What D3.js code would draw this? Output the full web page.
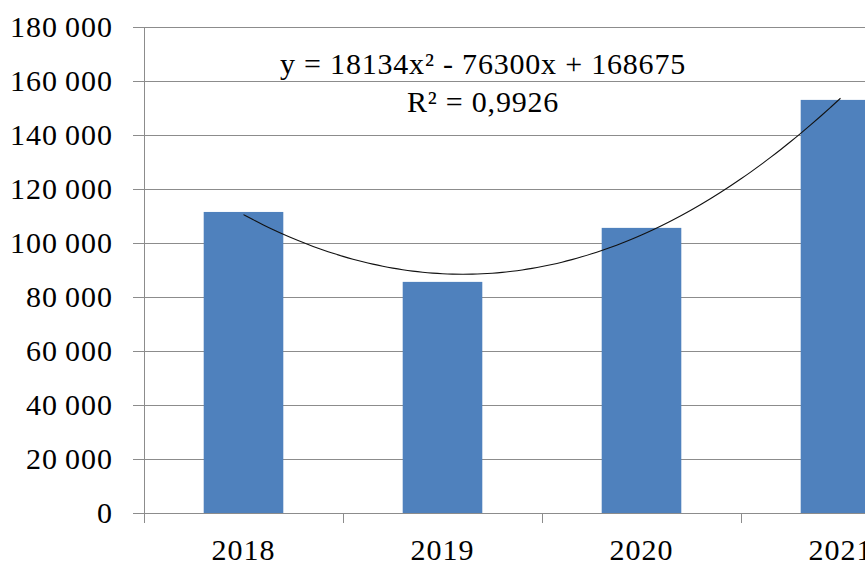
<!DOCTYPE html>
<html>
<head>
<meta charset="utf-8">
<script src="https://cdn.jsdelivr.net/npm/d3@7"></script>
<style>
  body { margin: 0; background: #fff; }
  svg { display: block; }
  text { font-family: "Liberation Serif", "Times New Roman", serif; fill: #000; }
</style>
</head>
<body>
<svg width="865" height="562"></svg>
<script>
// data
let years = ["2018", "2019", "2020", "2021"];
let values = [111500, 85600, 105600, 153000];
let yTicks = [0, 20000, 40000, 60000, 80000, 100000, 120000, 140000, 160000, 180000];
// polynomial trend line, coefficients as printed on the chart
let trendCoef = [18134, -76300, 168675];
let trendLabel = ["y = 18134x² - 76300x + 168675", "R² = 0,9926"];

let svg = d3.select("svg"),
    width = +svg.attr("width"),
    height = +svg.attr("height");

// plot area (right part runs past the picture edge, like the reference)
let plotLeft = 144, plotRight = 940, plotTop = 27, plotBottom = 513;

let x = d3.scaleBand()
    .domain(years)
    .range([plotLeft, plotRight])
    .paddingInner(0.6)
    .paddingOuter(0.3);

let y = d3.scaleLinear()
    .domain([0, 180000])
    .range([plotBottom, plotTop]);

let fmt = function(v) {
    return d3.format(",")(v).replace(/,/g, "\u2009");
};

// gridlines
svg.append("g")
    .selectAll("line")
    .data(yTicks)
    .enter()
    .append("line")
    .attr("x1", plotLeft - 11)
    .attr("x2", width)
    .attr("y1", d => Math.round(y(d)) + 0.5)
    .attr("y2", d => Math.round(y(d)) + 0.5)
    .attr("stroke", "#8c8c8c")
    .attr("stroke-width", 1);

// y labels
svg.append("g")
    .selectAll("text")
    .data(yTicks)
    .enter()
    .append("text")
    .attr("x", plotLeft - 31)
    .attr("y", d => y(d))
    .attr("dy", "0.34em")
    .style("text-anchor", "end")
    .style("font-size", "30px")
    .style("letter-spacing", "1px")
    .text(fmt);

// bars
svg.append("g")
    .selectAll("rect")
    .data(values)
    .enter()
    .append("rect")
    .attr("x", (d, i) => x(years[i]))
    .attr("width", x.bandwidth())
    .attr("y", d => y(d))
    .attr("height", d => y(0) - y(d))
    .attr("fill", "#4f81bd");

// y axis line
svg.append("line")
    .attr("x1", plotLeft + 0.5).attr("x2", plotLeft + 0.5)
    .attr("y1", plotTop).attr("y2", plotBottom + 10)
    .attr("stroke", "#8c8c8c");

// x axis ticks on category boundaries
let step = x.step();
let bounds = years.map(d => x(d) - (step - x.bandwidth()) / 2).concat([plotRight]);
svg.append("g")
    .selectAll("line")
    .data(bounds.slice(1))
    .enter()
    .append("line")
    .attr("x1", d => Math.round(d) + 0.5)
    .attr("x2", d => Math.round(d) + 0.5)
    .attr("y1", plotBottom)
    .attr("y2", plotBottom + 10)
    .attr("stroke", "#8c8c8c");

// x labels
svg.append("g")
    .selectAll("text")
    .data(years)
    .enter()
    .append("text")
    .attr("x", d => x(d) + x.bandwidth() / 2)
    .attr("y", 560)
    .style("text-anchor", "middle")
    .style("font-size", "30px")
    .style("letter-spacing", "1px")
    .text(d => d);

// trend line
let tx = d3.scaleLinear().domain([1, years.length])
    .range([x(years[0]) + x.bandwidth() / 2, x(years[years.length - 1]) + x.bandwidth() / 2]);
let pts = d3.range(1, years.length + 0.001, 0.05).map(function(t) {
    return [tx(t), y(trendCoef[0] * t * t + trendCoef[1] * t + trendCoef[2])];
});
svg.append("path")
    .attr("d", d3.line().curve(d3.curveBasis)(pts))
    .attr("fill", "none")
    .attr("stroke", "#111")
    .attr("stroke-width", 1.1);

// equation label
let lbl = svg.append("text")
    .attr("x", 483)
    .attr("y", 74)
    .style("text-anchor", "middle")
    .style("font-size", "30px")
    .style("letter-spacing", "0.8px");
lbl.append("tspan").attr("x", 483).attr("dy", 0).text(trendLabel[0]);
lbl.append("tspan").attr("x", 483).attr("dy", 38).text(trendLabel[1]);
</script>
</body>
</html>
